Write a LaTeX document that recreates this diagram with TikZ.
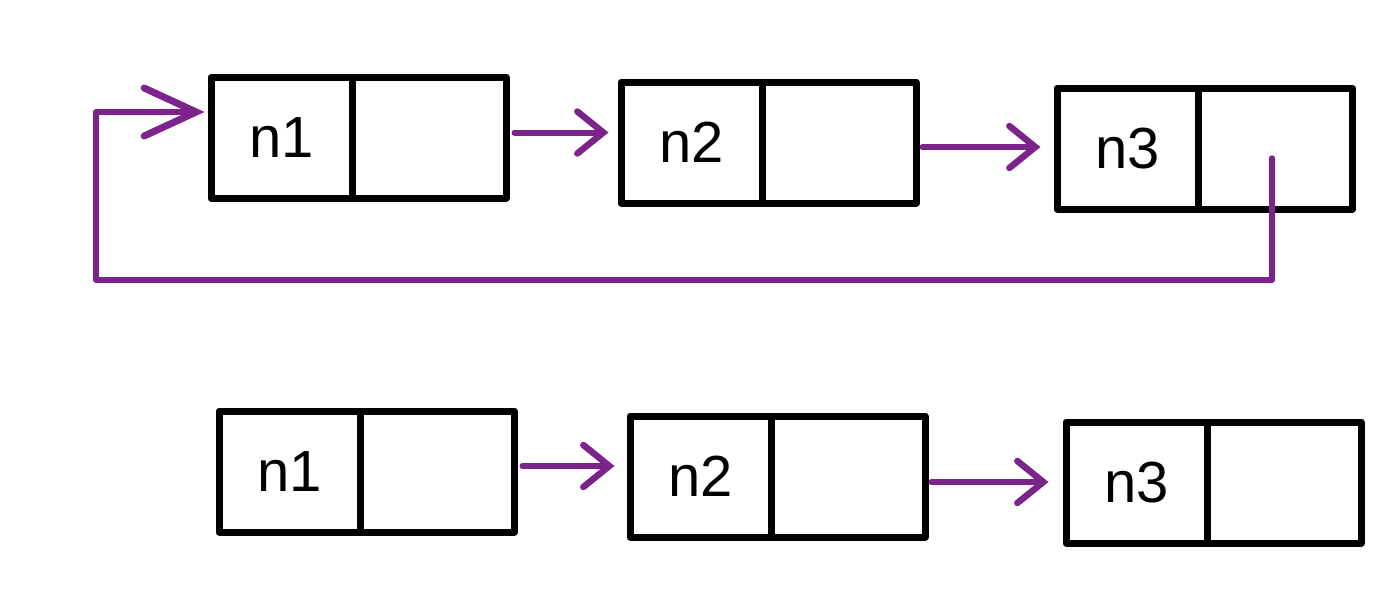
\documentclass[tikz,border=0pt]{standalone}
\usepackage{fontspec}
\setmainfont{Liberation Sans}
\usetikzlibrary{arrows.meta}
\definecolor{lnk}{RGB}{125,35,140}
\begin{document}
\begin{tikzpicture}[x=1pt,y=-1pt,
  cell/.style={draw=black, line width=7pt, line join=round, minimum height=121pt, inner sep=0pt, font=\fontsize{58}{62}\selectfont},
  lcell/.style={cell, minimum width=141pt},
  rcell/.style={cell, minimum width=154pt},
  arr/.style={draw=lnk, line width=6pt, line cap=round, line join=round,
    -{Straight Barb[length=26pt,width=42pt,line width=6.5pt,line cap=round]}},
  loop/.style={draw=lnk, line width=5.5pt, line cap=round, line join=round,
    -{Straight Barb[length=52pt,width=48pt,line width=7pt,line cap=round]}}]
\useasboundingbox (0,0) rectangle (1400,605);
% top row
\node[lcell] (a1l) at (281.5,137.5) {n1};
\node[rcell] (a1r) at (429,137.5) {};
\node[lcell] (a2l) at (691.5,142.5) {n2};
\node[rcell] (a2r) at (839,142.5) {};
\node[lcell] (a3l) at (1127.5,148.5) {n3};
\node[rcell] (a3r) at (1275.5,148.5) {};
% bottom row
\node[lcell] (b1l) at (289.5,471.5) {n1};
\node[rcell] (b1r) at (437,471.5) {};
\node[lcell] (b2l) at (700.5,476.5) {n2};
\node[rcell] (b2r) at (848,476.5) {};
\node[lcell] (b3l) at (1136.5,482.5) {n3};
\node[rcell] (b3r) at (1284,482.5) {};
% top arrows
\draw[arr] ([xshift=5pt,yshift=5pt]a1r.east) -- ([xshift=-9pt,yshift=10pt]a2l.west);
\draw[arr] ([xshift=3pt,yshift=-4.5pt]a2r.east) -- ([xshift=-13pt,yshift=1.5pt]a3l.west);
% loop back
\coordinate (lb) at (96,280);
\draw[loop] ([xshift=-3.5pt,yshift=-9.5pt]a3r.center) |- (lb) |- ([xshift=-3pt,yshift=25.5pt]a1l.west);
% bottom arrows
\draw[arr] ([xshift=5pt,yshift=5.5pt]b1r.east) -- ([xshift=-12pt,yshift=10.5pt]b2l.west);
\draw[arr] ([xshift=3pt,yshift=-5.5pt]b2r.east) -- ([xshift=-14pt,yshift=0.5pt]b3l.west);
\end{tikzpicture}
\end{document}
